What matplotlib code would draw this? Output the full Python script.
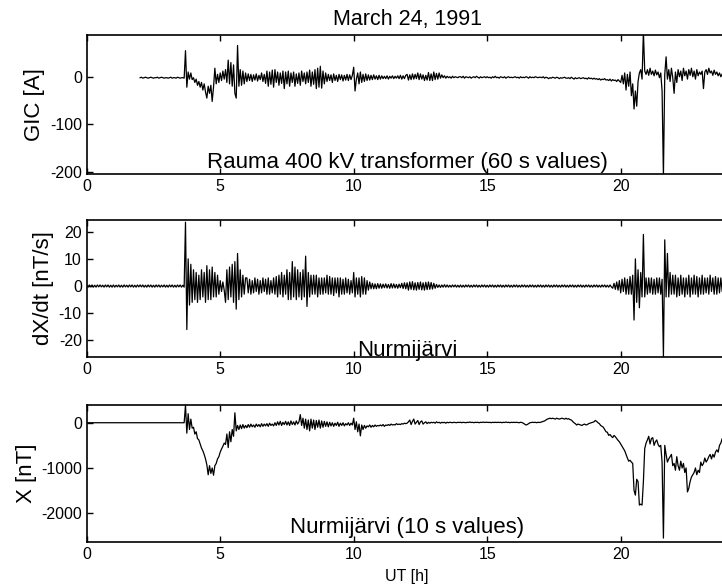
import numpy as np
import matplotlib
matplotlib.use("Agg")
import matplotlib.pyplot as plt

nan = np.nan

# Sample times (UT hours), one value every 0.05 h (20 per hour row below)
ut_hours = np.linspace(0, 24, 481)

# GIC in the Rauma 400 kV transformer [A]
gic = [
    nan, nan, nan, nan, nan, nan, nan, nan, nan, nan, nan, nan, nan, nan, nan, nan, nan, nan, nan, nan,
    nan, nan, nan, nan, nan, nan, nan, nan, nan, nan, nan, nan, nan, nan, nan, nan, nan, nan, nan, nan,
    -2, -1, -3, -2, -1, -2, -3, -2, -1, -2, -3, -2, -2, -1, -3, -2, -1, -2, -3, -2,
    -2, -3, -2, -1, -3, -2, -2, -3, -1, -2, -3, -2, -2, -3, 55, -22, 10, -5, 8, -6,
    -2, -12, -5, -18, -10, -22, -12, -28, -15, -32, -45, -20, -35, -18, -52, -22, 18, -15, 5, -12,
    8, -8, 12, -5, 15, -12, 35, -15, 30, -20, 25, -35, -45, 66, -20, 15, -18, 12, -15, 8,
    -10, 6, -8, 5, -10, 4, -7, 6, -9, 3, -6, 8, -10, 5, -14, 12, -20, 10, -16, 14,
    -22, 15, -12, 10, -18, 8, -14, 12, -25, 10, -15, 12, -20, 8, -12, 10, -20, 6, -14, 8,
    -18, 12, -10, 8, -15, 10, -12, 14, -20, 10, -16, 15, -25, 18, -22, 22, -24, 12, -15, 8,
    -10, 5, -8, 4, -12, 6, -8, 3, -10, 5, -6, 4, -9, 3, -7, 5, -8, 4, -6, 3,
    20, -30, -5, 8, -15, 10, -12, 5, -10, 6, -8, 4, -7, 3, -6, 4, -5, 2, -6, 3,
    -5, 2, -4, 1, -4, 2, -5, 1, -3, 2, -4, 1, -3, 2, -4, 3, -5, 2, -4, 3,
    5, -7, 4, -6, 6, -5, 5, -4, 8, -6, 6, -5, 4, -8, 3, -7, 9, -8, 6, -8,
    10, -6, 7, -5, 8, -3, 4, -2, 2, -3, 1, -2, 0, -3, 1, -2, 0, -1, -2, 0,
    0, -2, 1, -3, 0, -1, -2, 0, -3, -1, 0, -2, 1, -1, -3, 0, -2, -1, 0, -2,
    0, -2, -1, -3, 0, -2, 1, -2, -1, -3, 0, -1, -2, 0, -3, -1, 0, -2, -1, -2,
    -1, 0, -2, -1, -3, 0, -2, -1, -2, 0, -1, -3, 0, -2, -1, -2, 0, -1, -2, -1,
    -1, -2, 0, -3, -1, -2, -4, -2, -3, -1, -2, -3, -1, -2, -4, -2, -3, -2, -1, -3,
    -3, -2, -4, -1, -3, -5, -2, -4, -3, -2, -4, -3, -2, -4, -3, -5, -2, -4, -3, -5,
    -3, -5, -4, -6, -4, -7, -5, -6, -4, -7, -6, -8, -5, -9, -6, -8, -7, -10, -6, -9,
    -12, 3, -15, 8, -28, 5, -20, 10, -40, -15, -68, -30, -62, -10, 8, 15, -5, 95, 12, 5,
    15, 3, 18, 5, 12, 2, 14, 4, 10, -2, 8, -30, -210, 5, 42, -5, 15, -10, 18, -2,
    -35, 10, -12, 15, 0, 12, -8, 18, 2, 12, -5, 15, 3, 18, 0, 12, -5, 15, 2, 10,
    5, 12, -25, 10, 15, 5, 18, 8, 12, 3, 14, 5, 10, 2, 8, 0, 6, -2, 4, 0,
    2,
]

# dX/dt at Nurmijarvi [nT/s]
dxdt = [
    0.3, -0.4, 0.4, -0.3, 0.4, -0.4, 0.3, -0.4, 0.4, -0.3, 0.4, -0.3, 0.3, -0.4, 0.4, -0.3, 0.4, -0.4, 0.3, -0.4,
    0.4, -0.4, 0.3, -0.3, 0.4, -0.4, 0.3, -0.4, 0.4, -0.3, 0.3, -0.4, 0.4, -0.3, 0.4, -0.4, 0.3, -0.4, 0.4, -0.3,
    0.4, -0.3, 0.4, -0.4, 0.3, -0.4, 0.4, -0.3, 0.4, -0.4, 0.3, -0.4, 0.4, -0.3, 0.4, -0.4, 0.3, -0.3, 0.4, -0.4,
    0.3, -0.4, 0.4, -0.3, 0.4, -0.4, 0.3, -0.4, 0.4, -0.3, 0.4, -0.4, 0.3, -0.4, 23.5, -16, 10, -7, 8, -6,
    6, -5, 5, -6, 4, -5, 6, -4, 5, -6, 7.5, -5, 6, -5, 7, -4, 5, -4, 4, -3,
    2, -2, 1.5, -1.5, -6, 6, -5, 7, -4, 8, -6, 9, -8.5, 12, -5, 6, -4, 4, -3, 3,
    3, -2.5, 2.5, -3, 2, -2.5, 3, -2, 2.5, -3, 2, -2.5, 3, -2, 2.5, -3, 3, -3, 2, -2.5,
    3, -3, 3.5, -4, 4, -3, 5, -4, 4, -3, 6, -5, 5, -5, 9, -4, 7, -5, 6, -4,
    5, -5, 6, -4, 11, -7.5, 5, -4, 4, -3, 4, -3, 4, -4, 3, -3, 3, -3, 3, -2.5,
    4, -3, 3.5, -3, 3, -3.5, 3, -2.5, 3, -4, 3, -3, 2.5, -3, 3, -2.5, 2.5, -3, 2, -2.5,
    5, -4, 3, -3, 3, -4, 3.5, -3, 3, -3, 2, -1.5, 1.5, -1, 1, -1, 0.8, -1, 0.9, -0.8,
    0.8, -0.8, 0.7, -0.6, 0.8, -0.7, 0.6, -0.8, 0.9, -0.7, 0.8, -0.7, 0.6, -0.8, 0.7, -0.6, 1.0, -0.9, 1.2, -1.0,
    1.2, -1.5, 1.5, -1.2, 1.6, -1.4, 1.2, -1.5, 1.3, -1.2, 1.5, -1.4, 1.2, -1.5, 1.4, -1.3, 1.5, -1.2, 1.3, -1.1,
    1.0, -0.8, 0.6, -0.5, 0.4, -0.5, 0.4, -0.4, 0.5, -0.4, 0.4, -0.4, 0.3, -0.4, 0.4, -0.3, 0.4, -0.4, 0.3, -0.4,
    0.4, -0.4, 0.3, -0.4, 0.4, -0.3, 0.4, -0.4, 0.3, -0.4, 0.4, -0.3, 0.4, -0.4, 0.3, -0.4, 0.4, -0.3, 0.4, -0.4,
    0.3, -0.4, 0.4, -0.3, 0.4, -0.4, 0.3, -0.4, 0.4, -0.3, 0.4, -0.4, 0.3, -0.4, 0.4, -0.3, 0.4, -0.4, 0.3, -0.4,
    0.4, -0.3, 0.4, -0.4, 0.3, -0.4, 0.4, -0.3, 0.4, -0.4, 0.3, -0.4, 0.4, -0.3, 0.4, -0.4, 0.3, -0.4, 0.4, -0.3,
    0.4, -0.4, 0.3, -0.4, 0.4, -0.3, 0.4, -0.4, 0.3, -0.4, 0.4, -0.3, 0.4, -0.4, 0.3, -0.4, 0.4, -0.3, 0.4, -0.4,
    0.3, -0.4, 0.4, -0.3, 0.4, -0.4, 0.3, -0.4, 0.4, -0.3, 0.4, -0.4, 0.3, -0.4, 0.4, -0.3, 0.4, -0.4, 0.3, -0.4,
    0.4, -0.3, 0.4, -0.4, 0.3, -0.4, 0.4, -0.3, 0.4, -0.4, 0.3, -0.4, 0.4, -0.3, -0.8, 1.0, -1.2, 1.5, -1.5, 2,
    -2.5, 2.5, -2, 3, -3, 2.5, -3, 3.5, -3, 4, -12.5, 10, -6, 6, -8, 5, -4, 19, -4, 3,
    -3, 3, -2.5, 3, -3, 2.5, -3, 3, -2.5, 3, -3, 2.5, -26, 17, -4, 12, -4, 5, -3, 4,
    -3, 4, -4, 3, -3.5, 4, -3, 3, -4, 3, -3, 4, -4, 3, -3, 4, -3, 3.5, -4, 3,
    -3, 4, -3, 3, -2.5, 3, -3, 4, -2, 3, -3, 3.5, -3, 3, -2.5, 3, -2, 2.5, -2, 2,
    0,
]

# X component at Nurmijarvi [nT]
x_nt = [
    0, 0, 0, 0, 0, 0, 0, 0, 0, 0, 0, 0, 0, 0, 0, 0, 0, 0, 0, 0,
    0, 0, 0, 0, 0, 0, 0, 0, 0, 0, 0, 0, 0, 0, 0, 0, 0, 0, 0, 0,
    0, 0, 0, 0, 0, 0, 0, 0, 0, 0, 0, 0, 0, 0, 0, 0, 0, 0, 0, 0,
    0, 0, 0, 0, 0, 0, 0, 0, 0, 0, 0, 0, 0, 0, 390, -230, 200, -150, 80, -120,
    -100, -250, -200, -350, -380, -470, -560, -620, -700, -800, -930, -1150, -950, -1120, -1000, -1160, -950, -900, -800, -750,
    -650, -580, -520, -450, -480, -250, -550, -200, -420, -150, -300, 220, -180, -60, -150, -50, -130, -40, -120, -60,
    -110, -40, -100, -30, -90, -50, -100, -30, -80, -40, -90, -20, -80, -30, -70, -20, -80, -10, -60, -30,
    -70, 0, -60, 20, -50, 30, -60, 10, -40, 30, -50, 20, -60, 40, -40, 20, -50, 40, -30, 20,
    180, -60, 100, -120, 80, -150, 60, -180, 80, -120, 60, -150, 50, -100, 60, -120, 40, -100, 30, -80,
    20, -90, 10, -70, 0, -80, -10, -60, 10, -80, -10, -60, 0, -70, -20, -50, 0, -60, -10, -50,
    100, -150, 20, -200, -30, -290, -50, -150, -60, -120, -70, -90, -50, -100, -60, -90, -50, -80, -60, -70,
    -50, -70, -40, -80, -50, -60, -40, -60, -30, -50, -40, -50, -20, -40, -30, -40, -20, -30, -10, -20,
    -10, 20, 60, -40, 30, 80, -30, 10, 50, -40, 20, 40, -30, 0, 20, -20, 10, -10, 10, 0,
    10, -10, 20, 0, 10, -10, 10, 0, 10, -10, 10, 0, 10, 5, 0, 10, 5, 0, 10, 5,
    10, 0, 10, 5, 0, 10, 5, 15, 5, 10, 0, 10, 5, 10, 0, 10, 5, 15, 5, 10,
    10, 5, 10, 0, 10, 5, 10, 5, 10, 5, 10, 0, 10, 5, 15, 5, 10, 0, 10, 5,
    10, 5, 10, 5, 0, 10, 5, -10, -30, -50, -40, -20, 0, 5, 10, 5, 10, 0, 10, 5,
    10, 20, 30, 40, 60, 80, 90, 100, 90, 100, 90, 80, 100, 90, 80, 90, 100, 90, 80, 100,
    80, 90, 70, 60, 30, 0, -20, -50, -30, -40, -50, -60, -40, -30, -50, -40, -20, -10, 0, 10,
    20, 50, 30, 0, -20, -60, -80, -100, -150, -200, -210, -280, -260, -300, -330, -280, -310, -350, -390, -420,
    -470, -520, -570, -620, -700, -780, -850, -830, -870, -900, -1500, -1600, -1250, -1300, -1820, -1800, -1820, -1300, -570, -450,
    -380, -300, -470, -350, -330, -500, -420, -380, -480, -530, -500, -870, -2550, -500, -700, -870, -800, -750, -700, -950,
    -900, -1050, -750, -950, -1050, -850, -1000, -900, -1100, -1000, -1530, -1450, -1300, -1200, -1150, -1100, -1000, -1150, -1050, -1100,
    -870, -950, -900, -780, -870, -820, -750, -700, -800, -700, -760, -650, -600, -650, -500, -450, -350, -400, -300, -280,
    -250,
]

plt.rcParams["font.family"] = ["Liberation Sans", "DejaVu Sans"]
plt.rcParams["axes.unicode_minus"] = False

W, H = 722, 585
fig = plt.figure(figsize=(W / 100, H / 100), dpi=100)

left = 86.7 / W
width = 640.8 / W
panels = [
    (35.0, 174.0),
    (220.0, 357.0),
    (405.0, 541.7),
]

series = [gic, dxdt, x_nt]
ylims = [(-205, 88), (-26.1, 24.3), (-2630, 392)]
yticks = [[-200, -100, 0], [-20, -10, 0, 10, 20], [-2000, -1000, 0]]
ylabels = ["GIC [A]", "dX/dt [nT/s]", "X [nT]"]
ylabel_x = [-0.0807, -0.067, -0.0947]
notes = ["Rauma 400 kV transformer (60 s values)", "Nurmijärvi",
         "Nurmijärvi (10 s values)"]
note_y = [-193, -25.6, -2447]

axes = []
for i, (top, bot) in enumerate(panels):
    ax = fig.add_axes([left, 1 - bot / H, width, (bot - top) / H])
    ax.plot(ut_hours, series[i], color="black", lw=0.9)
    ax.set_xlim(0, 24)
    ax.set_ylim(*ylims[i])
    ax.set_xticks([0, 5, 10, 15, 20])
    ax.set_yticks(yticks[i])
    ax.tick_params(direction="in", length=4, width=1.0, labelsize=11.5,
                   pad=3.5, top=True, right=True)
    for s in ax.spines.values():
        s.set_linewidth(1.2)
    ax.set_ylabel(ylabels[i], fontsize=16, va="center")
    ax.yaxis.set_label_coords(ylabel_x[i], 0.5)
    ax.text(12, note_y[i], notes[i], ha="center", va="baseline", fontsize=16)
    axes.append(ax)

axes[0].set_title("March 24, 1991", fontsize=15.5, pad=7.2)
axes[2].set_xlabel("UT [h]", fontsize=11.5, va="center")
axes[2].xaxis.set_label_coords(0.5, -0.251)

fig.savefig("out.png", dpi=100)
